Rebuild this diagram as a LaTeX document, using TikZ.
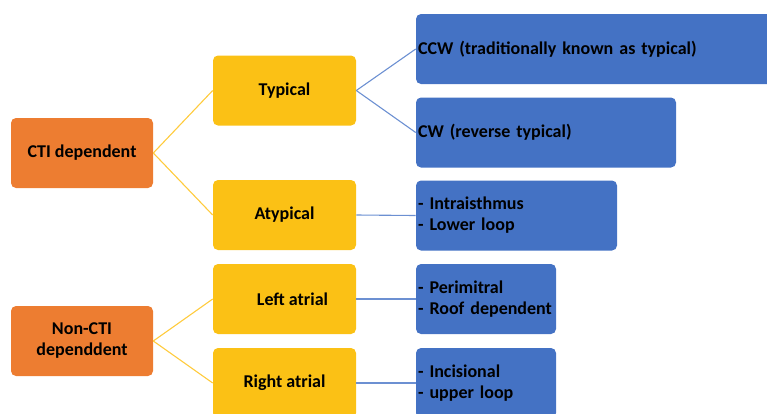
\documentclass[tikz,border=0pt]{standalone}
\usepackage{fontspec}
\setmainfont{Carlito}
\usepackage{xcolor}
\definecolor{ctiorange}{HTML}{ED7D31}
\definecolor{typeyellow}{HTML}{FBC115}
\definecolor{loopblue}{HTML}{4472C4}
\definecolor{yellowline}{HTML}{FFCB3D}
\definecolor{blueline}{HTML}{6C90D2}

\begin{document}
\begin{tikzpicture}[x=1pt, y=-1pt, semithick,
		box/.style={rounded corners=5pt, minimum height=70pt, inner sep=2pt, text=black, font=\fontsize{18}{21}\selectfont\bfseries},
		group/.style={box, fill=ctiorange, minimum width=142pt, align=center},
		kind/.style={box, fill=typeyellow, minimum width=143pt, align=center},
		circuit/.style={box, fill=loopblue, align=left},
		ylink/.style={draw=yellowline, line width=1.1pt},
		blink/.style={draw=blueline, line width=1.1pt}]
			\clip (0, 0) rectangle (767, 413);

			\node[group]					(cti)		at (82, 153)		{CTI dependent};
			\node[group]					(noncti)	at (82, 341)		{Non-CTI\\dependdent};

			\node[kind]					(typical)	at (284.5, 90.5)	{Typical};
			\node[kind]					(atypical)	at (284.5, 215)	{Atypical};
			\node[kind]					(left)		at (284.5, 299)	{\hspace{16pt}Left atrial};
			\node[kind]					(right)		at (284.5, 383)	{Right atrial};

			\node[circuit, text width=380pt]	(ccw)		at (608, 49)		{CCW (traditionally known as typical)};
			\node[circuit, text width=256pt]	(cw)		at (546, 132.5)	{CW (reverse typical)};
			\node[circuit, text width=197pt]	(isthmus)	at (516.5, 215.5)	{- Intraisthmus\\- Lower loop};
			\node[circuit, text width=136pt]	(mitral)	at (486, 299)		{- Perimitral\\- Roof dependent};
			\node[circuit, text width=136pt]	(incision)	at (486, 383)		{- Incisional\\- upper loop};

			\path	(cti.east) edge[ylink] (typical.west)
					(cti.east) edge[ylink] (atypical.west)
					(noncti.east) edge[ylink] (left.west)
					(noncti.east) edge[ylink] (right.west)
					(typical.east) edge[blink] (ccw.west)
					(typical.east) edge[blink] (cw.west)
					(atypical.east) edge[blink] (isthmus.west)
					(left.east) edge[blink] (mitral.west)
					(right.east) edge[blink] (incision.west);
		\end{tikzpicture}
\end{document}
